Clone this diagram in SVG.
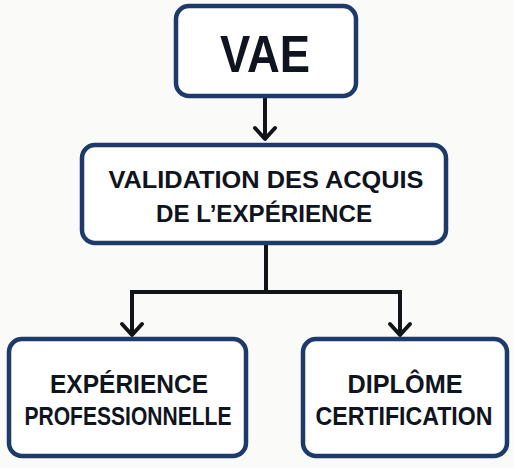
<svg xmlns="http://www.w3.org/2000/svg" width="514" height="468" viewBox="0 0 514 468">
<style>
.box{fill:#ffffff;stroke:#1e3a6b;stroke-width:4.5}
.t{font-family:"Liberation Sans","Arial",sans-serif;font-weight:bold;fill:#0f1420;text-anchor:middle}
.c{fill:none;stroke:#111418;stroke-width:4;stroke-linejoin:miter}
.ah{fill:none;stroke:#111418;stroke-width:4;stroke-linecap:round;stroke-linejoin:round}
</style>
<rect width="514" height="468" fill="#fafaf8"/>
<g id="connectors">
<path class="c" d="M265 97 V139"/>
<path class="ah" d="M255 128 L265 139 L275 128"/>
<path class="c" d="M266 244 V292 M130 292 H402 M132 290 V335 M400 290 V335"/>
<path class="ah" d="M122 324 L132 335 L142 324"/>
<path class="ah" d="M390 324 L400 335 L410 324"/>
</g>
<g id="vae">
<rect class="box" x="176" y="6" width="180" height="90" rx="13"/>
<text class="t" x="265" y="72" font-size="52" textLength="90" lengthAdjust="spacingAndGlyphs">VAE</text>
</g>
<g id="validation">
<rect class="box" x="82" y="145" width="364" height="98" rx="13"/>
<text class="t" x="266" y="188" font-size="23" textLength="315" lengthAdjust="spacingAndGlyphs">VALIDATION DES ACQUIS</text>
<text class="t" x="264" y="222" font-size="23" textLength="216" lengthAdjust="spacingAndGlyphs">DE L’EXPÉRIENCE</text>
</g>
<g id="experience">
<rect class="box" x="9" y="339" width="237" height="117" rx="13"/>
<text class="t" x="129" y="393" font-size="26" textLength="158" lengthAdjust="spacingAndGlyphs">EXPÉRIENCE</text>
<text class="t" x="128" y="425" font-size="26" textLength="207" lengthAdjust="spacingAndGlyphs">PROFESSIONNELLE</text>
</g>
<g id="diplome">
<rect class="box" x="303" y="339" width="204" height="117" rx="13"/>
<text class="t" x="405" y="393" font-size="26" textLength="115" lengthAdjust="spacingAndGlyphs">DIPLÔME</text>
<text class="t" x="404" y="425" font-size="26" textLength="177" lengthAdjust="spacingAndGlyphs">CERTIFICATION</text>
</g>
</svg>
